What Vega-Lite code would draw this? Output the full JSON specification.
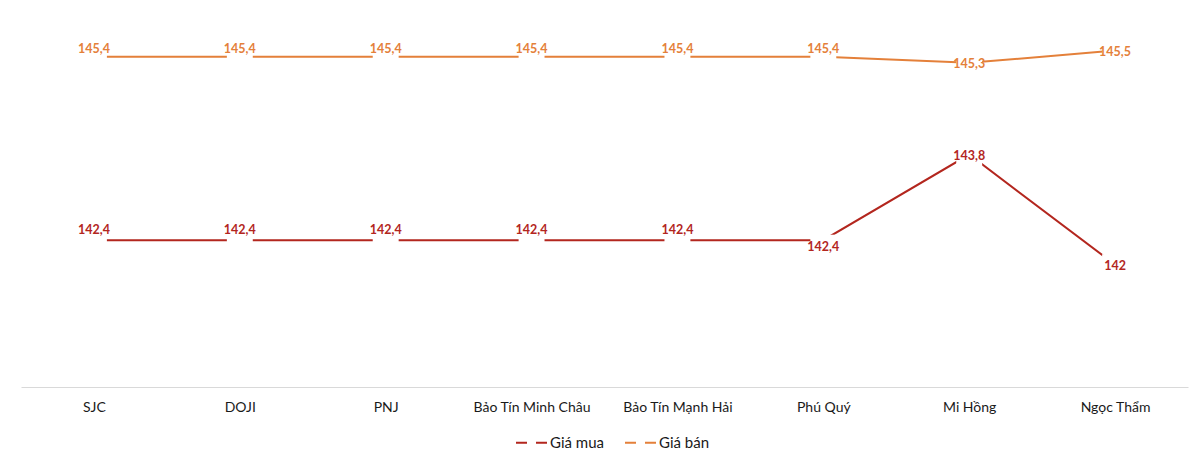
{
  "$schema": "https://vega.github.io/schema/vega-lite/v6.json",
  "width": 1167,
  "height": 367,
  "autosize": {"type": "none"},
  "padding": {"left": 21, "top": 20, "right": 12, "bottom": 67},
  "background": "white",
  "data": {
    "values": [
      {"brand": "SJC", "series": "Giá mua", "value": 142.4},
      {"brand": "DOJI", "series": "Giá mua", "value": 142.4},
      {"brand": "PNJ", "series": "Giá mua", "value": 142.4},
      {"brand": "Bảo Tín Minh Châu", "series": "Giá mua", "value": 142.4},
      {"brand": "Bảo Tín Mạnh Hải", "series": "Giá mua", "value": 142.4},
      {"brand": "Phú Quý", "series": "Giá mua", "value": 142.4},
      {"brand": "Mi Hồng", "series": "Giá mua", "value": 143.8},
      {"brand": "Ngọc Thẩm", "series": "Giá mua", "value": 142},
      {"brand": "SJC", "series": "Giá bán", "value": 145.4},
      {"brand": "DOJI", "series": "Giá bán", "value": 145.4},
      {"brand": "PNJ", "series": "Giá bán", "value": 145.4},
      {"brand": "Bảo Tín Minh Châu", "series": "Giá bán", "value": 145.4},
      {"brand": "Bảo Tín Mạnh Hải", "series": "Giá bán", "value": 145.4},
      {"brand": "Phú Quý", "series": "Giá bán", "value": 145.4},
      {"brand": "Mi Hồng", "series": "Giá bán", "value": 145.3},
      {"brand": "Ngọc Thẩm", "series": "Giá bán", "value": 145.5}
    ]
  },
  "transform": [
    {"calculate": "replace(toString(datum.value), '.', ',')", "as": "label"}
  ],
  "encoding": {
    "x": {
      "field": "brand",
      "type": "nominal",
      "sort": ["SJC", "DOJI", "PNJ", "Bảo Tín Minh Châu", "Bảo Tín Mạnh Hải", "Phú Quý", "Mi Hồng", "Ngọc Thẩm"],
      "scale": {"type": "point", "padding": 0.5},
      "axis": {
        "title": null,
        "labelAngle": 0,
        "ticks": false,
        "domainColor": "#d9d9d9",
        "domainWidth": 1,
        "labelPadding": 13,
        "labelFont": "Lato",
        "labelFontSize": 14,
        "labelColor": "#1a1a1a"
      }
    },
    "y": {
      "field": "value",
      "type": "quantitative",
      "scale": {"domain": [140, 146], "zero": false, "nice": false},
      "axis": null
    }
  },
  "layer": [
    {
      "mark": {"type": "line", "strokeWidth": 2},
      "encoding": {
        "color": {
          "field": "series",
          "type": "nominal",
          "scale": {"domain": ["Giá mua", "Giá bán"], "range": ["#B3261E", "#E4803A"]},
          "legend": {
            "title": null,
            "orient": "none",
            "direction": "horizontal",
            "legendX": 494,
            "legendY": 406,
            "symbolType": "M-1,0L-0.29,0M0.29,0L1,0",
            "symbolSize": 961,
            "symbolStrokeWidth": 2,
            "labelOffset": 2,
            "columnPadding": 17,
            "labelFont": "Lato",
            "labelFontSize": 15,
            "labelColor": "#1a1a1a",
            "padding": 0
          }
        }
      }
    },
    {
      "transform": [{"filter": "datum.series == 'Giá bán' && datum.brand != 'Mi Hồng' && datum.brand != 'Ngọc Thẩm'"}],
      "layer": [
        {"mark": {"type": "point", "shape": "M-1.08,-1L1.08,-1L1.08,1L-1.08,1Z", "size": 576, "filled": true, "fill": "white", "opacity": 1, "strokeWidth": 0, "yOffset": -8}},
        {"mark": {"type": "text", "font": "Lato", "fontWeight": "bold", "fontSize": 12.5, "yOffset": -8, "color": "#E4803A"}, "encoding": {"text": {"field": "label"}}}
      ]
    },
    {
      "transform": [{"filter": "datum.series == 'Giá mua' && indexof(['Phú Quý', 'Mi Hồng', 'Ngọc Thẩm'], datum.brand) < 0"}],
      "layer": [
        {"mark": {"type": "point", "shape": "M-1.08,-1L1.08,-1L1.08,1L-1.08,1Z", "size": 576, "filled": true, "fill": "white", "opacity": 1, "strokeWidth": 0, "yOffset": -10}},
        {"mark": {"type": "text", "font": "Lato", "fontWeight": "bold", "fontSize": 12.5, "yOffset": -10, "color": "#B3261E"}, "encoding": {"text": {"field": "label"}}}
      ]
    },
    {
      "transform": [{"filter": "datum.brand == 'Mi Hồng' || datum.brand == 'Ngọc Thẩm'"}],
      "layer": [
        {"mark": {"type": "point", "shape": "M-1.08,-1L1.08,-1L1.08,1L-1.08,1Z", "size": 576, "filled": true, "fill": "white", "opacity": 1, "strokeWidth": 0, "yOffset": 1.5}},
        {"mark": {"type": "text", "font": "Lato", "fontWeight": "bold", "fontSize": 12.5, "yOffset": 1.5}, "encoding": {"text": {"field": "label"}, "color": {"field": "series", "type": "nominal"}}}
      ]
    },
    {
      "transform": [{"filter": "datum.series == 'Giá mua' && datum.brand == 'Phú Quý'"}],
      "layer": [
        {"mark": {"type": "point", "shape": "M-1.08,-1L1.08,-1L1.08,1L-1.08,1Z", "size": 576, "filled": true, "fill": "white", "opacity": 1, "strokeWidth": 0, "yOffset": 6.5}},
        {"mark": {"type": "text", "font": "Lato", "fontWeight": "bold", "fontSize": 12.5, "yOffset": 6.5, "color": "#B3261E"}, "encoding": {"text": {"field": "label"}}}
      ]
    }
  ],
  "config": {
    "view": {"stroke": null},
    "font": "Lato"
  }
}
